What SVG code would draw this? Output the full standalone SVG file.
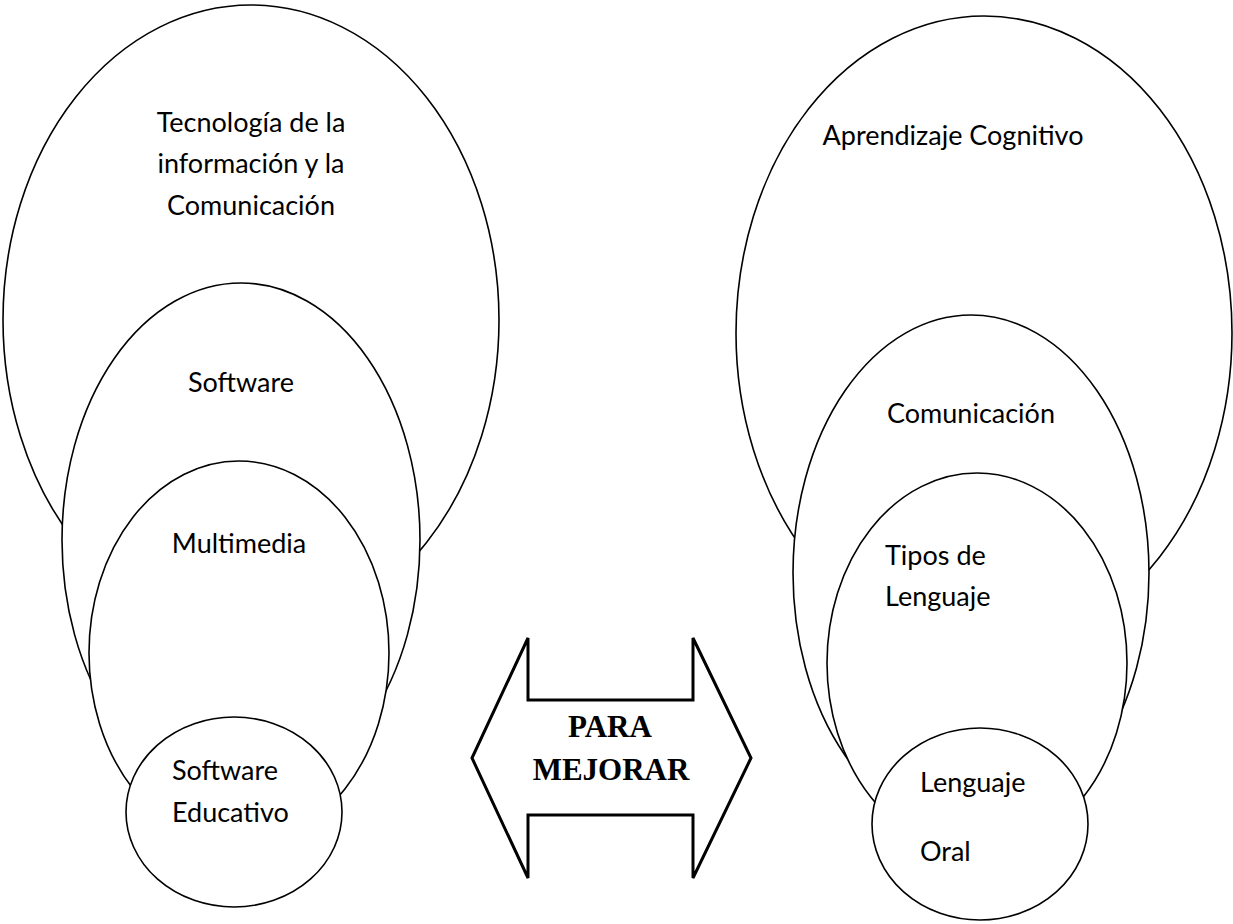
<svg xmlns="http://www.w3.org/2000/svg" width="1233" height="924" viewBox="0 0 1233 924">
<style>
.sh{fill:#fff;stroke:#000;stroke-width:1.6}
.t{font-family:Lato,"Open Sans","Liberation Sans",sans-serif;font-size:27px;fill:#000}
.m{text-anchor:middle}
.b{font-family:"Liberation Serif","Times New Roman",serif;font-weight:bold;font-size:31px;text-anchor:middle;fill:#000}
</style>
<rect width="1233" height="924" fill="#fff"/>
<g id="tic">
<ellipse class="sh" cx="251" cy="320" rx="248" ry="315"/>
<text class="t m" x="251" y="132">Tecnología de la</text>
<text class="t m" x="251" y="173">información y la</text>
<text class="t m" x="251" y="215">Comunicación</text>
</g>
<g id="software">
<ellipse class="sh" cx="241" cy="540" rx="179" ry="257"/>
<text class="t m" x="241" y="392">Software</text>
</g>
<g id="multimedia">
<ellipse class="sh" cx="239" cy="653" rx="150" ry="192"/>
<text class="t m" x="239" y="553">Multimedia</text>
</g>
<g id="software-educativo">
<ellipse class="sh" cx="234" cy="812" rx="108" ry="95"/>
<text class="t" x="172" y="780">Software</text>
<text class="t" x="172" y="822">Educativo</text>
</g>
<g id="aprendizaje">
<ellipse class="sh" cx="984" cy="333" rx="248" ry="317"/>
<text class="t m" x="953" y="145">Aprendizaje Cognitivo</text>
</g>
<g id="comunicacion">
<ellipse class="sh" cx="971" cy="573" rx="178" ry="258"/>
<text class="t m" x="971" y="423">Comunicación</text>
</g>
<g id="tipos">
<ellipse class="sh" cx="977" cy="663" rx="150" ry="190"/>
<text class="t" x="885" y="565">Tipos de</text>
<text class="t" x="885" y="606">Lenguaje</text>
</g>
<g id="oral">
<ellipse class="sh" cx="980" cy="824" rx="108" ry="96"/>
<text class="t" x="920" y="792">Lenguaje</text>
<text class="t" x="920" y="861">Oral</text>
</g>
<g id="connectors">
<polygon points="472,758 528,638 528,700 693,700 693,638 751,758 693,878 693,815 528,815 528,878" fill="#fff" stroke="#000" stroke-width="3"/>
<text class="b" x="610" y="737">PARA</text>
<text class="b" x="611" y="780">MEJORAR</text>
</g>
</svg>
